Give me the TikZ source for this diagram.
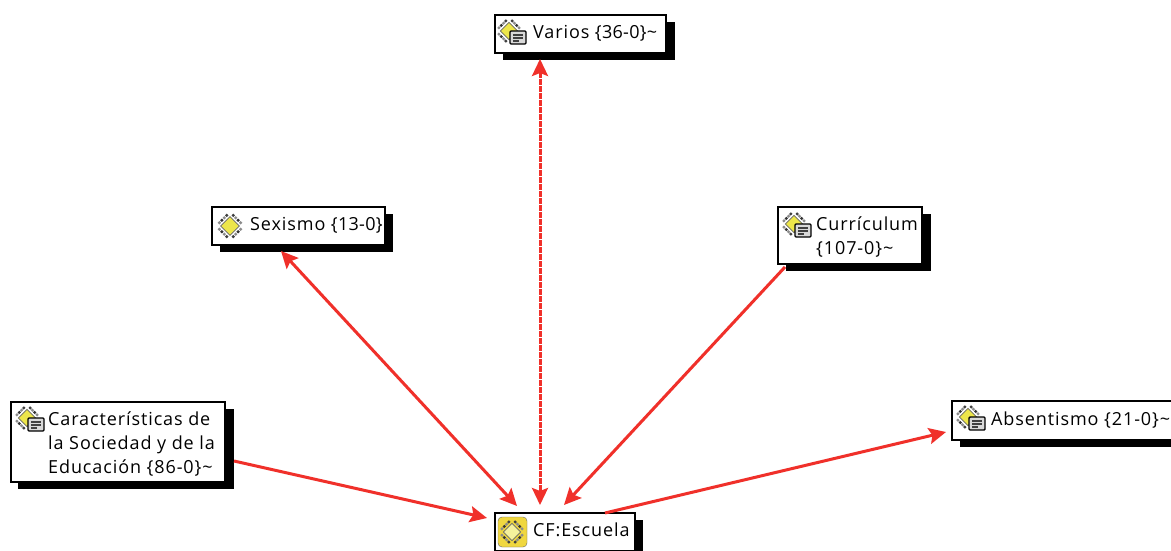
\documentclass[tikz,border=0pt]{standalone}
\usepackage{fontspec}
\setmainfont[LetterSpace=5]{Open Sans}
\usetikzlibrary{arrows.meta,calc}
\definecolor{linkred}{HTML}{F0302A}
\definecolor{iconyellow}{HTML}{EDE64A}
\newcommand{\tightnum}[1]{{\addfontfeature{LetterSpace=1.5}#1}}
\tikzset{
  x=1pt,y=-1pt,
  codebox/.style={draw=black,line width=2pt,fill=white,anchor=north west,inner sep=0pt,outer sep=0pt,
    minimum width=#1},
  shadowbox/.style={fill=black,draw=none},
  boxtext/.style={anchor=north west,inner sep=0pt,align=left,font=\fontsize{18}{24}\selectfont},
  link/.style={draw=linkred,line width=3pt,-{Stealth[length=17pt,width=16pt,inset=3pt]}},
  biglink/.style={draw=linkred,line width=3pt,{Stealth[length=17pt,width=16pt,inset=3pt]}-{Stealth[length=17pt,width=16pt,inset=3pt]}},
}
\newcommand{\dmd}[4]{% cx cy fill radius
  \foreach \a/\b in {-1/-1,-1/1,1/-1,1/1}{
    \foreach \t/\c in {0/black!75,0.33/black!45,0.66/black!80,1/black!45}{
      \fill[\c] (#1+\a*#4*.62*\t+\a*3.2,#2+\b*#4*.62*\t*-1+\b*#4*.62+\b*3.2) circle (1.7pt);
    }
  }
  \fill[#3,draw=black!60,line width=.8pt] (#1-#4*.78,#2) -- (#1,#2-#4*.78) -- (#1+#4*.78,#2) -- (#1,#2+#4*.78) -- cycle;
}
\newcommand{\noteic}[2]{% cx cy of diamond
  \fill[white!85!black,draw=black,line width=1.4pt,rounded corners=1pt] (#1-2,#2-2) rectangle (#1+14,#2+11);
  \draw[black!75,line width=1.2pt] (#1+1,#2+2) -- (#1+11,#2+2) (#1+1,#2+5) -- (#1+11,#2+5) (#1+1,#2+8) -- (#1+7,#2+8);
}
\begin{document}
\begin{tikzpicture}
\useasboundingbox (0,0) rectangle (1171,551);
\fill[white] (0,0) rectangle (1171,551);

% Varios
\fill[shadowbox] (503,22) rectangle (675,60);
\node[codebox=171pt,minimum height=38pt] (varios) at (495,15) {};
\dmd{509}{31}{iconyellow}{11}\noteic{512}{33}
\node[boxtext] (variost) at (533,25) {Varios \tightnum{\{36-0\}\textasciitilde}};

% Sexismo
\fill[shadowbox] (220,214) rectangle (393,252);
\node[codebox=173pt,minimum height=38pt] (sexismo) at (212,207) {};
\dmd{230}{226}{iconyellow}{12}
\node[boxtext] (sexismot) at (250,217) {Sexismo \tightnum{\{13-0\}}};

% Curriculum
\fill[shadowbox] (786,214) rectangle (931,271);
\node[codebox=144pt,minimum height=57pt] (curriculum) at (778,207) {};
\dmd{794}{224}{iconyellow}{11}\noteic{797}{226}
\node[boxtext] (curriculumt) at (816,217) {Currículum\\\{107-0\}\textasciitilde};

% Caracteristicas
\fill[shadowbox] (18,409) rectangle (234,489);
\node[codebox=214pt,minimum height=80pt] (carac) at (11,402) {};
\dmd{27}{418}{iconyellow}{11}\noteic{30}{420}
\node[boxtext] (caract) at (48,412) {Características de\\la Sociedad y de la\\Educación \{86-0\}\textasciitilde};

% Absentismo
\fill[shadowbox] (960,408) rectangle (1171,447);
\node[codebox=230pt,minimum height=39pt] (absent) at (952,401) {};
\dmd{968}{417}{iconyellow}{11}\noteic{971}{419}
\node[boxtext] (absentt) at (991,412) {Absentismo \{21-0\}\textasciitilde};

% CF
\fill[shadowbox] (503,520) rectangle (643,551);
\node[codebox=140pt,minimum height=38pt] (cf) at (495,513) {};
\fill[iconyellow!85!orange,draw=black!60,rounded corners=4pt] (498,517) rectangle (527,547);
\dmd{512}{532}{iconyellow!55!white}{11}
\node[boxtext] (cft) at (533,523) {CF:Escuela};

% Connectors
\draw[biglink,dash pattern=on 6pt off 1pt] ([shift={(45,44)}]varios.north west) -- ([shift={(45,-8)}]cf.north west);
\draw[biglink] ([shift={(69,6)}]sexismo.south west) -- ([shift={(22,-7)}]cf.north west);
\draw[link] ([shift={(7,3)}]curriculum.south west) -- ([shift={(69,-8)}]cf.north west);
\draw[link] ([shift={(9,-21)}]carac.south east) -- ([shift={(-8,5)}]cf.north west);
\draw[link] ([shift={(110,0)}]cf.north west) -- ([shift={(-6,31)}]absent.north west);
\end{tikzpicture}
\end{document}
